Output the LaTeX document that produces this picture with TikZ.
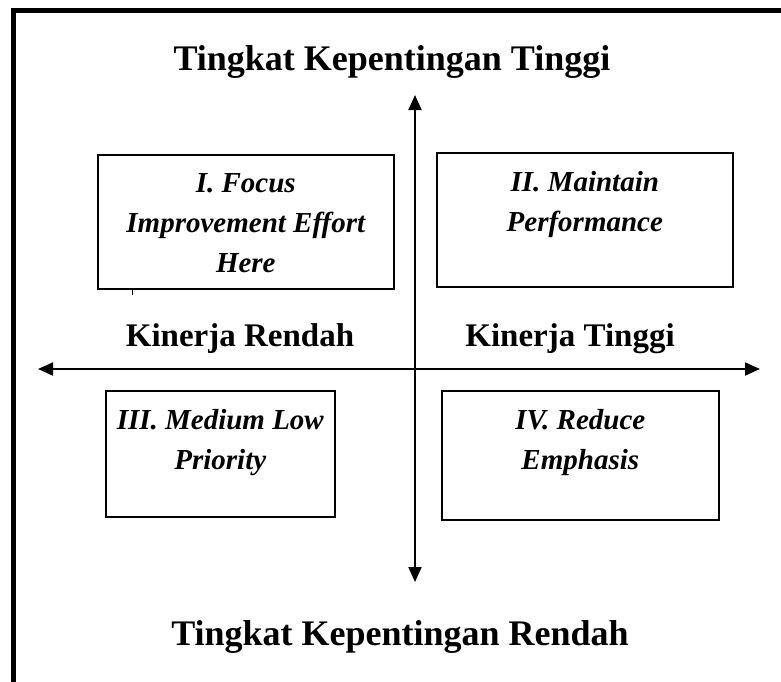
\documentclass[tikz,border=0pt]{standalone}
\usepackage{fontspec}
\setmainfont{Liberation Serif}
\usetikzlibrary{arrows.meta}
\begin{document}
\begin{tikzpicture}[x=1pt,y=-1pt,
  axis/.style={line width=2pt,{Triangle[length=15pt,width=13pt]}-{Triangle[length=15pt,width=13pt]}},
  quad/.style={draw,line width=1.6pt,inner sep=0pt,anchor=north west},
  quadtext/.style={anchor=north,align=center,inner sep=0pt,
    font=\fontsize{29}{40}\selectfont\bfseries\itshape},
  axislabel/.style={font=\fontsize{33}{40}\selectfont\bfseries,inner sep=0pt},
  titlelabel/.style={font=\fontsize{36}{40}\selectfont\bfseries,inner sep=0pt}]
  \useasboundingbox (0,0) rectangle (781,681);
  % outer frame, only its top and left sides fall inside the page
  \begin{scope}
    \clip (0,0) rectangle (781,681);
    \draw[line width=5pt] (13.5,10.5) rectangle (800,700);
  \end{scope}
  % axes
  \coordinate (top) at (415,95);
  \coordinate (bot) at (415,582);
  \coordinate (lft) at (38,369);
  \coordinate (rgt) at (760,369);
  \draw[axis] (bot) -- (top);
  \draw[axis] (lft) -- (rgt);
  % quadrant boxes
  \node[quad,minimum width=296pt,minimum height=134pt] (q1) at (97,154) {};
  \node[quad,minimum width=296pt,minimum height=134pt] (q2) at (436,152) {};
  \node[quad,minimum width=229pt,minimum height=126pt] (q3) at (105,390) {};
  \node[quad,minimum width=277pt,minimum height=129pt] (q4) at (441,390) {};
  \coordinate (tick) at (132,295);
  \draw[line width=1pt] (q1.south west -| tick) -- (tick);
  \node[quadtext] (t1) at ([yshift=-19pt]q1.north) {I. Focus\\Improvement Effort\\Here};
  \node[quadtext] (t2) at ([yshift=-19pt]q2.north) {II. Maintain\\Performance};
  \node[quadtext] (t3) at ([yshift=-19pt]q3.north) {III. Medium Low\\Priority};
  \node[quadtext] (t4) at ([yshift=-19pt]q4.north) {IV. Reduce\\Emphasis};
  % axis labels
  \node[titlelabel] (ltop) at (392,62) {Tingkat Kepentingan Tinggi};
  \node[titlelabel] (lbot) at (400,637) {Tingkat Kepentingan Rendah};
  \node[axislabel] (lleft) at (240,339) {Kinerja Rendah};
  \node[axislabel] (lright) at (570,339) {Kinerja Tinggi};
\end{tikzpicture}
\end{document}
